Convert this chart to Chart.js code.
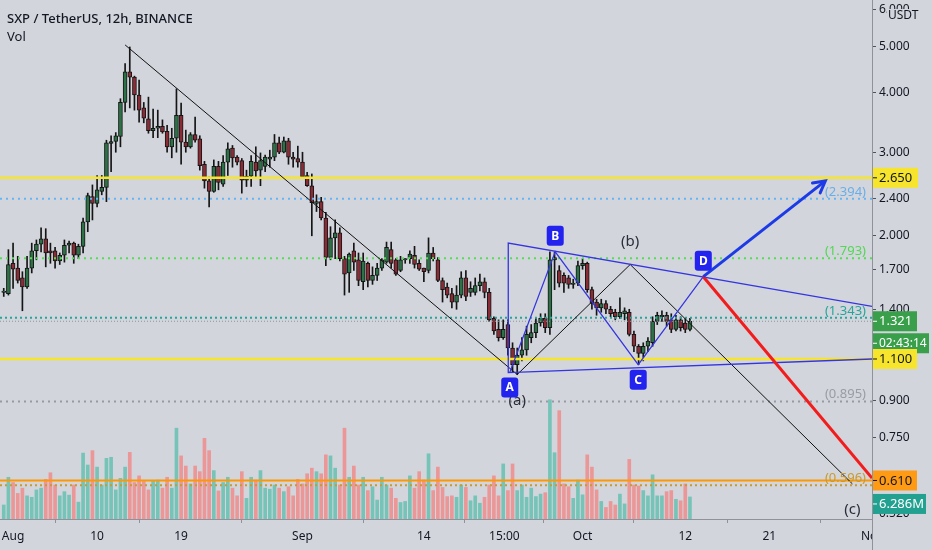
<!DOCTYPE html>
<html>
<head>
<meta charset="utf-8">
<title>SXP / TetherUS, 12h</title>
<script src="https://cdn.jsdelivr.net/npm/chart.js@4.4.0/dist/chart.umd.min.js"></script>
<style>
  html, body { margin: 0; padding: 0; background: #d2d5dc; }
  #wrap { width: 932px; height: 550px; }
</style>
</head>
<body>
<div id="wrap"><canvas id="chart" width="932" height="550"></canvas></div>
<script>
// 12h candles, first one opens Jul 31 00:00 (x axis = days since Aug 1)
const firstCandleDay = -1;

const opens = [
  1.52,1.51,1.75,1.71,1.63,1.56,1.71,1.86,1.92,1.97,
  1.86,1.86,1.77,1.82,1.91,1.93,1.82,1.90,2.14,2.42,
  2.34,2.48,2.53,3.13,3.16,3.24,3.82,4.43,4.32,3.96,
  3.72,3.53,3.33,3.37,3.40,3.32,3.08,3.21,3.59,3.15,
  3.08,3.27,3.20,2.83,2.61,2.48,2.80,2.57,2.86,3.06,
  2.93,2.88,2.62,2.67,2.86,2.75,2.80,2.90,2.93,3.14,
  3.00,3.17,2.93,2.91,2.86,2.68,2.55,2.34,2.36,2.18,
  1.80,1.98,2.03,1.79,1.67,1.86,1.78,1.60,1.75,1.61,
  1.65,1.71,1.76,1.87,1.78,1.69,1.78,1.79,1.82,1.75,
  1.71,1.69,1.84,1.78,1.61,1.56,1.51,1.45,1.50,1.63,
  1.52,1.52,1.57,1.60,1.52,1.34,1.27,1.22,1.30,1.16,
  1.07,1.12,1.15,1.22,1.25,1.31,1.34,1.28,1.78,1.69,
  1.65,1.63,1.58,1.59,1.73,1.75,1.54,1.45,1.41,1.44,
  1.40,1.38,1.35,1.37,1.38,1.24,1.17,1.13,1.17,1.19,
  1.32,1.35,1.36,1.33,1.27,1.33,1.31,1.27
];
const highs = [
  1.55,1.87,1.93,1.81,1.68,1.81,1.93,1.96,2.08,2.07,
  1.93,1.89,1.84,1.96,1.95,1.94,1.92,2.18,2.46,2.56,
  2.68,2.68,3.18,3.25,3.30,3.89,4.61,5.00,4.34,4.26,
  3.82,3.92,3.70,3.68,3.51,3.42,3.37,4.08,3.81,3.34,
  3.30,3.56,3.25,2.87,2.66,2.89,2.87,2.95,3.14,3.10,
  2.95,2.91,2.75,2.95,3.08,2.99,2.96,3.03,3.27,3.23,
  3.23,3.21,3.00,3.09,3.00,2.72,2.70,2.44,2.41,2.24,
  2.09,2.16,2.08,1.81,1.84,1.93,1.84,1.84,1.76,1.72,
  1.75,1.79,1.94,1.94,1.79,1.81,1.79,1.86,1.90,1.78,
  1.71,1.98,1.89,1.80,1.63,1.59,1.55,1.57,1.68,1.69,
  1.60,1.63,1.66,1.63,1.55,1.35,1.33,1.33,1.33,1.19,
  1.16,1.22,1.29,1.30,1.34,1.37,1.37,1.85,1.85,1.73,
  1.67,1.65,1.62,1.77,1.79,1.76,1.56,1.47,1.47,1.46,
  1.42,1.40,1.48,1.41,1.40,1.26,1.18,1.19,1.22,1.35,
  1.38,1.39,1.38,1.37,1.36,1.35,1.34,1.34
];
const lows = [
  1.49,1.50,1.55,1.59,1.39,1.55,1.67,1.78,1.85,1.72,
  1.75,1.71,1.74,1.76,1.84,1.75,1.79,1.84,2.04,2.16,
  2.30,2.44,2.36,2.73,3.00,3.08,3.65,3.72,3.68,3.47,
  3.46,3.29,3.22,3.22,3.29,3.00,2.92,3.00,2.83,3.00,
  3.06,3.15,2.75,2.52,2.30,2.47,2.50,2.54,2.68,2.79,
  2.82,2.46,2.54,2.54,2.66,2.55,2.73,2.79,2.88,2.98,
  2.99,2.83,2.79,2.79,2.64,2.54,2.00,2.25,2.16,1.73,
  1.78,1.79,1.77,1.50,1.52,1.69,1.57,1.54,1.56,1.58,
  1.61,1.69,1.75,1.71,1.65,1.68,1.75,1.75,1.71,1.69,
  1.60,1.67,1.77,1.60,1.45,1.48,1.41,1.40,1.48,1.46,
  1.49,1.50,1.53,1.48,1.32,1.24,1.20,1.21,1.12,1.03,
  1.02,1.09,1.12,1.19,1.22,1.29,1.25,1.24,1.54,1.56,
  1.52,1.55,1.55,1.57,1.70,1.52,1.40,1.36,1.38,1.37,
  1.35,1.33,1.34,1.33,1.23,1.14,1.07,1.09,1.14,1.17,
  1.30,1.32,1.29,1.25,1.26,1.26,1.25,1.26
];
const closes = [
  1.53,1.74,1.70,1.61,1.56,1.71,1.86,1.92,1.97,1.84,
  1.84,1.77,1.82,1.91,1.93,1.82,1.90,2.14,2.43,2.34,
  2.50,2.53,3.14,3.16,3.25,3.82,4.43,4.32,3.96,3.68,
  3.54,3.33,3.37,3.40,3.31,3.08,3.21,3.59,3.15,3.08,
  3.27,3.18,2.81,2.61,2.48,2.80,2.59,2.86,3.05,2.92,
  2.86,2.62,2.67,2.87,2.74,2.88,2.93,2.93,3.14,3.00,
  3.17,2.93,2.90,2.86,2.66,2.55,2.35,2.36,2.18,1.80,
  1.98,2.03,1.79,1.66,1.83,1.76,1.61,1.77,1.61,1.65,
  1.71,1.78,1.89,1.75,1.66,1.78,1.79,1.83,1.74,1.70,
  1.68,1.84,1.79,1.61,1.54,1.50,1.45,1.50,1.63,1.49,
  1.55,1.57,1.60,1.52,1.33,1.26,1.22,1.27,1.16,1.07,
  1.12,1.15,1.24,1.25,1.31,1.34,1.28,1.78,1.80,1.59,
  1.59,1.58,1.59,1.73,1.75,1.54,1.44,1.41,1.44,1.40,
  1.37,1.35,1.38,1.39,1.24,1.17,1.13,1.17,1.20,1.32,
  1.36,1.36,1.32,1.27,1.33,1.28,1.27,1.321
];
// volume in millions of SXP
const volumes = [
  4.0,11.9,10.4,7.3,8.8,6.6,6.2,8.3,8.8,11.3,
  13.2,9.7,6.6,7.8,6.8,9.7,4.8,18.8,15.4,19.5,
  14.8,9.7,17.3,17.6,8.3,11.6,14.8,19.0,10.4,12.3,
  10.7,8.3,10.9,11.1,8.8,11.9,8.8,25.9,18.0,15.1,
  10.0,15.1,13.5,23.0,19.5,13.8,8.0,10.4,11.9,8.8,
  6.6,13.5,5.9,11.9,11.1,13.8,8.8,8.5,9.7,8.8,
  7.8,9.2,6.6,11.3,10.0,12.9,14.5,13.5,12.9,18.3,
  18.0,14.5,9.7,25.9,11.9,15.1,9.7,11.9,8.1,9.2,
  5.4,11.9,9.7,8.8,5.9,4.7,5.0,12.3,8.8,13.5,
  11.1,18.6,8.1,14.8,9.0,6.4,6.6,6.2,9.7,9.0,
  5.2,6.6,4.5,6.2,9.7,12.3,6.6,15.7,8.1,15.7,
  8.1,9.7,6.2,8.8,6.4,7.1,7.5,34.0,18.9,30.9,
  10.0,9.2,5.9,11.1,6.9,18.3,14.8,8.3,5.0,3.3,
  5.0,4.0,7.1,4.3,17.0,9.7,9.4,8.1,6.6,12.6,
  6.6,6.6,7.8,8.1,5.6,5.2,10.0,6.286
];

// axes
const xMinDay = -1.4;
const xMaxDay = 92.0;
const xTickDays = [0, 9, 18, 31, 44, 52.625, 61, 72, 81, 92];
const xTickLabels = ['Aug', '10', '19', 'Sep', '14', '15:00', 'Oct', '12', '21', 'Nov'];
const yMinPrice = 0.506;
const yMaxPrice = 6.28;
const yTickValues = [0.52, 0.61, 0.75, 0.9, 1.1, 1.4, 1.7, 2.0, 2.4, 3.0, 4.0, 5.0, 6.0];
const volAxisMax = 148;

// horizontal levels
const solidLevels = [2.65, 1.1, 0.61];
const fibLevels = [2.394, 1.793, 1.343, 0.895, 0.596];
const lastPrice = 1.321;
const lastVolume = 6.286;
const countdown = '02:43:14';

// drawings
const waveDays = [12.0, 54.0, 66.1, 89.9];
const wavePrices = [5.05, 1.02, 1.74, 0.60];
const waveNames = ['', '(a)', '(b)', '(c)'];
const triangleDays = [92.04, 53.04, 53.04, 92.04];
const trianglePrices = [1.10, 1.03, 1.93, 1.42];
const abcdDays = [53.2, 58.07, 66.96, 73.93];
const abcdPrices = [1.03, 1.85, 1.07, 1.64];
const abcdNames = ['A', 'B', 'C', 'D'];
const targetUpDays = [73.93, 87.0];
const targetUpPrices = [1.64, 2.61];
const targetDownDays = [73.93, 92.0];
const targetDownPrices = [1.64, 0.617];

const BG = '#d2d5dc';
const FONT = '"Noto Sans", "Open Sans", sans-serif';
const TEXT = '#131722';
const AXIS_LINE = '#8f929b';

const candleDays = opens.map((_, i) => firstCandleDay + i * 0.5);
const isUp = opens.map((o, i) => closes[i] >= o);

const fibStyle = {
  2.394: { color: '#64b5f6', text: '#6aaee8', dash: [2, 4] },
  1.793: { color: '#52e052', text: '#52d852', dash: [2, 4] },
  1.343: { color: '#26a69a', text: '#26a69a', dash: [2, 3] },
  0.895: { color: '#979aa3', text: '#9a9ca4', dash: [2, 4] },
  0.596: { color: '#c99a2e', text: '#c99a2e', dash: [2, 3] }
};
const solidStyle = { 2.65: '#f6e52c', 1.1: '#f6e52c', 0.61: '#ff9800' };

function pts(days, prices) {
  return days.map((d, i) => ({ x: d, y: prices[i] }));
}
function hline(p) {
  return [{ x: xMinDay, y: p }, { x: xMaxDay, y: p }];
}
const lineBase = { type: 'line', yAxisID: 'y', pointRadius: 0, fill: false, tension: 0 };

const datasets = [
  {
    type: 'bar', yAxisID: 'yv', order: 30, grouped: false, barThickness: 3,
    data: candleDays.map((d, i) => ({ x: d, y: volumes[i] })),
    backgroundColor: isUp.map(u => u ? '#76c3b8' : '#ec9797')
  },
  {
    type: 'bar', yAxisID: 'y', order: 21, grouped: false, barThickness: 1,
    data: candleDays.map((d, i) => ({ x: d, y: [lows[i], highs[i]] })),
    backgroundColor: '#151515'
  },
  {
    type: 'bar', yAxisID: 'y', order: 20, grouped: false, barThickness: 4,
    data: candleDays.map((d, i) => ({ x: d, y: [Math.min(opens[i], closes[i]), Math.max(opens[i], closes[i])] })),
    backgroundColor: isUp.map(u => u ? '#2d7247' : '#8a2c36'),
    borderColor: '#151515', borderWidth: 1, borderSkipped: false
  },
  { ...lineBase, order: 8, data: hline(lastPrice), borderColor: '#8f929b', borderWidth: 1, borderDash: [1, 2] }
];
fibLevels.forEach(p => {
  datasets.push({ ...lineBase, order: 7, data: hline(p), borderColor: fibStyle[p].color, borderWidth: 2, borderDash: fibStyle[p].dash });
});
solidLevels.forEach(p => {
  datasets.push({ ...lineBase, order: 6, data: hline(p), borderColor: solidStyle[p], borderWidth: p === 0.61 ? 2 : 2.5 });
});
datasets.push(
  { ...lineBase, order: 4, data: pts(waveDays, wavePrices), borderColor: '#111111', borderWidth: 1 },
  { ...lineBase, order: 3, data: pts(triangleDays, trianglePrices), borderColor: '#3434e0', borderWidth: 1.3 },
  { ...lineBase, order: 3, data: pts(abcdDays, abcdPrices), borderColor: '#3434e0', borderWidth: 1.2 },
  { ...lineBase, order: 2, data: pts(targetDownDays, targetDownPrices), borderColor: '#f21c1c', borderWidth: 3 },
  { ...lineBase, order: 1, data: pts(targetUpDays, targetUpPrices), borderColor: '#1c3ae6', borderWidth: 3 }
);

function roundBox(ctx, x, y, w, h, r) {
  ctx.beginPath();
  ctx.moveTo(x + r, y);
  ctx.lineTo(x + w - r, y);
  ctx.quadraticCurveTo(x + w, y, x + w, y + r);
  ctx.lineTo(x + w, y + h - r);
  ctx.quadraticCurveTo(x + w, y + h, x + w - r, y + h);
  ctx.lineTo(x + r, y + h);
  ctx.quadraticCurveTo(x, y + h, x, y + h - r);
  ctx.lineTo(x, y + r);
  ctx.quadraticCurveTo(x, y, x + r, y);
  ctx.closePath();
}

const overlay = {
  id: 'overlay',
  beforeDraw(chart) {
    const ctx = chart.ctx;
    ctx.save();
    ctx.fillStyle = BG;
    ctx.fillRect(0, 0, chart.width, chart.height);
    ctx.restore();
  },
  afterDraw(chart) {
    const { ctx, chartArea: a, scales } = chart;
    const x = scales.x, y = scales.y, yv = scales.yv;
    ctx.save();

    // hide the overflowing part of the last date label, extend the price axis line
    ctx.fillStyle = BG;
    ctx.fillRect(a.right + 1, a.bottom + 1, chart.width - a.right, chart.height - a.bottom);
    ctx.strokeStyle = AXIS_LINE;
    ctx.lineWidth = 1;
    ctx.beginPath();
    ctx.moveTo(a.right + 0.5, 0);
    ctx.lineTo(a.right + 0.5, chart.height);
    ctx.stroke();

    // header
    ctx.fillStyle = TEXT;
    ctx.textAlign = 'left';
    ctx.textBaseline = 'alphabetic';
    ctx.font = '500 13px ' + FONT;
    ctx.fillText('SXP / TetherUS, 12h, BINANCE', 7, 23);
    ctx.font = '13px ' + FONT;
    ctx.fillText('Vol', 7, 41);

    // fib level captions
    ctx.font = '13px ' + FONT;
    ctx.textAlign = 'right';
    fibLevels.forEach(p => {
      ctx.fillStyle = fibStyle[p].text;
      ctx.fillText('(' + p.toFixed(3) + ')', a.right - 6, y.getPixelForValue(p) - 3);
    });

    // arrow head on the upside target
    const x0 = x.getPixelForValue(targetUpDays[0]), y0 = y.getPixelForValue(targetUpPrices[0]);
    const x1 = x.getPixelForValue(targetUpDays[1]), y1 = y.getPixelForValue(targetUpPrices[1]);
    const ang = Math.atan2(y1 - y0, x1 - x0);
    ctx.strokeStyle = '#1c3ae6';
    ctx.lineWidth = 3;
    ctx.lineCap = 'round';
    ctx.beginPath();
    ctx.moveTo(x1 - 13 * Math.cos(ang - 0.5), y1 - 13 * Math.sin(ang - 0.5));
    ctx.lineTo(x1, y1);
    ctx.lineTo(x1 - 13 * Math.cos(ang + 0.5), y1 - 13 * Math.sin(ang + 0.5));
    ctx.stroke();

    // wave captions
    ctx.fillStyle = '#2a2e39';
    ctx.font = '15px ' + FONT;
    ctx.textAlign = 'center';
    ctx.textBaseline = 'middle';
    waveNames.forEach((n, i) => {
      if (!n) return;
      const low = i > 0 && wavePrices[i] < wavePrices[i - 1];
      ctx.fillText(n, x.getPixelForValue(waveDays[i]), y.getPixelForValue(wavePrices[i]) + (low ? 26 : -23));
    });

    // ABCD point boxes
    ctx.font = 'bold 12px ' + FONT;
    abcdNames.forEach((n, i) => {
      const px = x.getPixelForValue(abcdDays[i]);
      const low = i === 0 ? true : abcdPrices[i] < abcdPrices[i - 1];
      const cy = y.getPixelForValue(abcdPrices[i]) + (low ? 15 : -16);
      ctx.fillStyle = '#2323f0';
      roundBox(ctx, px - 8.5, cy - 10, 17, 20, 3);
      ctx.fill();
      ctx.fillStyle = '#ffffff';
      ctx.fillText(n, px, cy + 0.5);
    });

    // price axis badges
    const badge = (cy, text, bg, fg, w, size) => {
      ctx.fillStyle = bg;
      ctx.fillRect(a.right + 1, cy - 10, w, 20);
      ctx.fillStyle = fg;
      ctx.fillRect(a.right + 1, cy - 0.5, 4, 1);
      ctx.font = size + 'px ' + FONT;
      ctx.textAlign = 'left';
      ctx.textBaseline = 'middle';
      ctx.fillText(text, a.right + 7, cy + 0.5);
    };
    badge(y.getPixelForValue(2.65), '2.650', '#f6e52c', '#131722', 45, 13);
    const lp = y.getPixelForValue(lastPrice);
    badge(lp, lastPrice.toFixed(3), '#3a9f4b', '#ffffff', 44, 13);
    badge(lp + 22, countdown, '#3a9f4b', '#ffffff', 56, 12);
    badge(y.getPixelForValue(1.1), '1.100', '#f6e52c', '#131722', 44, 13);
    badge(y.getPixelForValue(0.61), '0.610', '#ff9a14', '#131722', 44, 13);
    badge(yv.getPixelForValue(lastVolume) + 7, lastVolume.toFixed(3) + 'M', '#22a191', '#ffffff', 53, 13);

    // currency caption at the top of the price axis
    ctx.fillStyle = BG;
    ctx.fillRect(a.right + 15, 9, 45, 15);
    ctx.fillStyle = TEXT;
    ctx.font = '12px ' + FONT;
    ctx.textAlign = 'left';
    ctx.textBaseline = 'middle';
    ctx.fillText('USDT', a.right + 16, 16);

    ctx.restore();
  }
};

new Chart(document.getElementById('chart'), {
  type: 'bar',
  data: { datasets },
  options: {
    responsive: false,
    animation: false,
    devicePixelRatio: 1,
    layout: { padding: 0 },
    plugins: { legend: { display: false }, tooltip: { enabled: false } },
    scales: {
      x: {
        type: 'linear', min: xMinDay, max: xMaxDay, bounds: 'data', offset: false,
        grid: { drawOnChartArea: false, drawTicks: true, tickLength: 4, color: AXIS_LINE },
        border: { display: true, color: AXIS_LINE },
        ticks: {
          autoSkip: false, maxRotation: 0, padding: 6, color: TEXT,
          font: { family: FONT, size: 12 },
          callback: v => xTickLabels[xTickDays.indexOf(v)]
        },
        afterBuildTicks: s => { s.ticks = xTickDays.map(v => ({ value: v })); },
        afterFit: s => { s.height = 31; s.paddingLeft = 0; s.paddingRight = 0; }
      },
      y: {
        type: 'logarithmic', position: 'right', min: yMinPrice, max: yMaxPrice, bounds: 'data',
        grid: { drawOnChartArea: false, drawTicks: true, tickLength: 4, color: '#50535e' },
        border: { display: true, color: AXIS_LINE },
        ticks: {
          autoSkip: false, padding: 3, color: TEXT,
          font: { family: FONT, size: 12 },
          callback: v => Number(v).toFixed(3)
        },
        afterBuildTicks: s => { s.ticks = yTickValues.map(v => ({ value: v })); },
        afterFit: s => { s.width = 60; s.paddingTop = 0; s.paddingBottom = 0; }
      },
      yv: { type: 'linear', display: false, min: 0, max: volAxisMax }
    }
  },
  plugins: [overlay]
});
</script>
</body>
</html>
